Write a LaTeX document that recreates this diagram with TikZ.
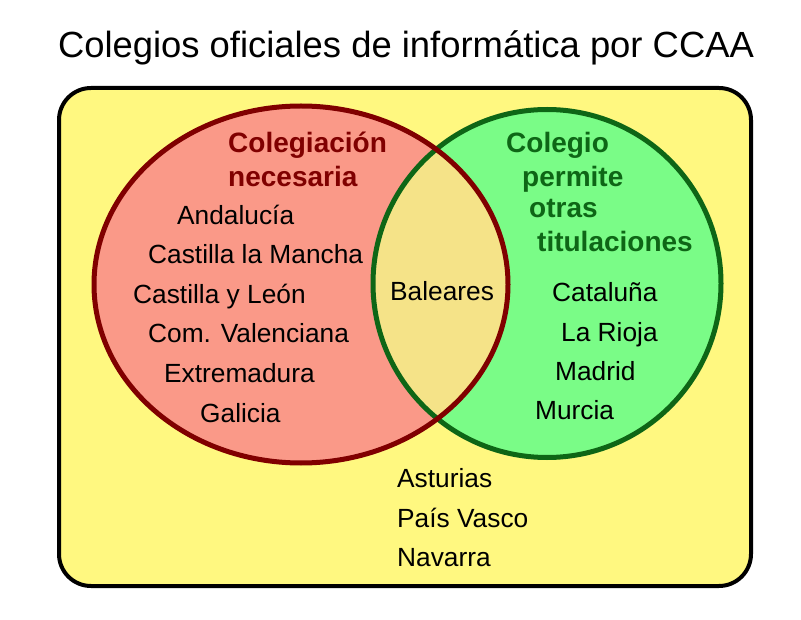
\documentclass[tikz,border=0pt]{standalone}
\usepackage{fontspec}
\setmainfont{Liberation Sans}
\definecolor{bgyellow}{RGB}{255,248,128}
\definecolor{redfill}{RGB}{250,153,136}
\definecolor{redline}{RGB}{128,0,0}
\definecolor{greenfill}{RGB}{122,252,135}
\definecolor{greenline}{RGB}{14,102,22}
\definecolor{mixfill}{RGB}{245,227,136}
\tikzset{
  lbl/.style={anchor=base west, inner sep=0pt, font=\fontsize{26.3}{30}\selectfont},
  redhead/.style={anchor=base west, inner sep=0pt, font=\fontsize{28}{32}\selectfont\bfseries, text=redline},
  greenhead/.style={anchor=base west, inner sep=0pt, font=\fontsize{28}{32}\selectfont\bfseries, text=greenline},
}
\begin{document}
\begin{tikzpicture}[x=1pt,y=-1pt]
\useasboundingbox (0,0) rectangle (801,620);
% title
\node[anchor=base, inner sep=0pt, font=\fontsize{36.4}{42}\selectfont] (title) at (406,58) {Colegios oficiales de informática por CCAA};
% frame
\draw[line width=4pt, fill=bgyellow, rounded corners=32pt] (59,88) rectangle (751,586);
% sets
\fill[redfill] (301,284.5) ellipse [x radius=207, y radius=178.5];
\fill[greenfill] (547,283.5) circle [radius=174];
\begin{scope}
  \clip (301,284.5) ellipse [x radius=207, y radius=178.5];
  \fill[mixfill] (547,283.5) circle [radius=174];
\end{scope}
\draw[greenline, line width=5pt] (547,283.5) circle [radius=174];
\draw[redline, line width=5pt] (301,284.5) ellipse [x radius=207, y radius=178.5];
% red labels
\node[redhead] (h1) at (228,153) {Colegiación};
\node[redhead] (h2) at (228,187) {necesaria};
\node[lbl] (r1) at (177,225) {Andalucía};
\node[lbl] (r2) at (148,264) {Castilla la Mancha};
\node[lbl] (r3) at (133,304) {Castilla y León};
\node[lbl] (r4) at (148,343) {Com. Valenciana};
\node[lbl] (r5) at (164,383) {Extremadura};
\node[lbl] (r6) at (200,423) {Galicia};
% green labels
\node[greenhead] (g1) at (506,153) {Colegio};
\node[greenhead] (g2) at (522,187) {permite};
\node[greenhead] (g3) at (529,218) {otras};
\node[greenhead] (g4) at (537,252) {titulaciones};
\node[lbl] (c1) at (552,302) {Cataluña};
\node[lbl] (c2) at (561,342) {La Rioja};
\node[lbl] (c3) at (555,381) {Madrid};
\node[lbl] (c4) at (535,420) {Murcia};
% intersection
\node[lbl] (b1) at (390,301) {Baleares};
% outside
\node[lbl] (o1) at (397,487) {Asturias};
\node[lbl] (o2) at (397,527) {País Vasco};
\node[lbl] (o3) at (397,566) {Navarra};
\end{tikzpicture}
\end{document}
